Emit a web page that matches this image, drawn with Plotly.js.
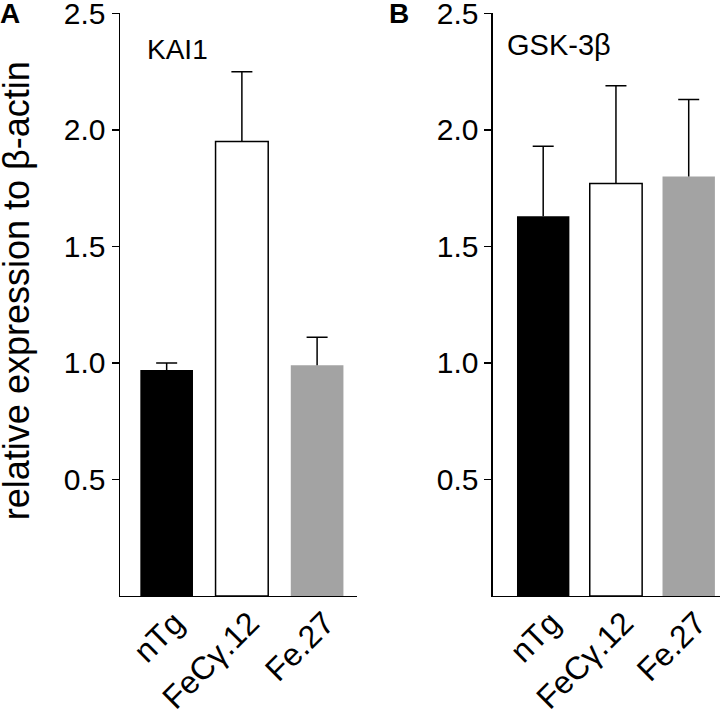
<!DOCTYPE html>
<html>
<head>
<meta charset="utf-8">
<script src="https://cdn.plot.ly/plotly-3.0.1.min.js"></script>
<style>
  html, body { margin: 0; padding: 0; background: #fff; }
  #chart { width: 720px; height: 714px; }
</style>
</head>
<body>
<div id="chart"></div>
<script>
// Data
const categories = ['nTg', 'FeCγ.12', 'Fe.27'];
const kai1Means = [0.97, 1.95, 0.99];
const kai1Err = [0.03, 0.30, 0.12];
const gskMeans = [1.63, 1.77, 1.80];
const gskErr = [0.30, 0.42, 0.33];
const yTickVals = [0.5, 1.0, 1.5, 2.0, 2.5];
const yTickText = ['0.5', '1.0', '1.5', '2.0', '2.5'];

// Bar styles: black, open, grey
const barFill = ['#000000', '#ffffff', '#a3a3a3'];
const barEdge = ['#000000', '#000000', '#a3a3a3'];
const barEdgeW = [0, 1.5, 0];

const FONT = '"Liberation Sans", Arial, Helvetica, sans-serif';

function barTrace(means, xa, ya, w) {
    return {
        type: 'bar',
        x: categories,
        y: means,
        xaxis: xa,
        yaxis: ya,
        width: w,
        marker: {
            color: barFill,
            line: { color: barEdge, width: barEdgeW }
        },
        hoverinfo: 'x+y',
        showlegend: false
    };
}

// Upper-only error bars: a stem from the bar top plus a cap at the end
// (plotly's error_y would also put a cap on the bar top)
function stemTrace(means, errs, xa, ya) {
    const x = [], y = [];
    categories.forEach((c, i) => {
        x.push(c, c, null);
        y.push(means[i], means[i] + errs[i], null);
    });
    return {
        type: 'scatter', mode: 'lines', x: x, y: y, xaxis: xa, yaxis: ya,
        line: { color: '#000', width: 1.5 }, hoverinfo: 'skip', showlegend: false
    };
}

function capTrace(means, errs, xa, ya) {
    return {
        type: 'scatter', mode: 'markers', x: categories,
        y: means.map((m, i) => m + errs[i]), xaxis: xa, yaxis: ya,
        marker: { symbol: 'line-ew', size: 15, line: { color: '#000', width: 1.5 } },
        hoverinfo: 'skip', showlegend: false
    };
}

const traces = [
    barTrace(kai1Means, 'x', 'y', 0.70),
    stemTrace(kai1Means, kai1Err, 'x', 'y'),
    capTrace(kai1Means, kai1Err, 'x', 'y'),
    barTrace(gskMeans, 'x2', 'y2', 0.72),
    stemTrace(gskMeans, gskErr, 'x2', 'y2'),
    capTrace(gskMeans, gskErr, 'x2', 'y2')
];

const yDomain = [0.1653, 0.9814];

function yAxis(anchor) {
    return {
        anchor: anchor,
        domain: yDomain,
        range: [0, 2.5005],
        tickmode: 'array',
        tickvals: yTickVals,
        ticktext: yTickText,
        ticks: 'outside',
        ticklen: 7,
        tickwidth: 1.5,
        tickcolor: '#000',
        ticklabeloverflow: 'allow',
        showline: true,
        linecolor: '#000',
        linewidth: 1.5,
        showgrid: false,
        zeroline: false,
        tickfont: { size: 30, color: '#000', family: FONT }
    };
}

function xAxis(anchor, domain, range) {
    return {
        anchor: anchor,
        domain: domain,
        range: range,
        type: 'category',
        showline: true,
        linecolor: '#000',
        linewidth: 1.5,
        ticks: '',
        tickangle: -45,
        ticklabelstandoff: -6,
        ticklabelshift: 8,
        ticklabeloverflow: 'allow',
        showgrid: false,
        zeroline: false,
        tickfont: { size: 32, color: '#000', family: FONT }
    };
}

const layout = {
    width: 720,
    height: 714,
    margin: { l: 0, r: 0, t: 0, b: 0 },
    paper_bgcolor: '#fff',
    plot_bgcolor: 'rgba(0,0,0,0)',
    font: { family: FONT, color: '#000' },
    xaxis: xAxis('y', [0.1667, 0.4958], [-0.62, 2.53]),
    yaxis: yAxis('x'),
    xaxis2: xAxis('y2', [0.6847, 1.0], [-0.69, 2.43]),
    yaxis2: yAxis('x2'),
    annotations: [
        { text: '<b>A</b>', xref: 'paper', yref: 'paper', x: -0.003, y: 0.981,
          xanchor: 'left', yanchor: 'middle', showarrow: false, font: { size: 28 } },
        { text: '<b>B</b>', xref: 'paper', yref: 'paper', x: 0.538, y: 0.981,
          xanchor: 'left', yanchor: 'middle', showarrow: false, font: { size: 28 } },
        { text: 'KAI1', xref: 'paper', yref: 'paper', x: 0.2014, y: 0.930,
          xanchor: 'left', yanchor: 'middle', showarrow: false, font: { size: 28 } },
        { text: 'GSK-3β', xref: 'paper', yref: 'paper', x: 0.702, y: 0.937,
          xanchor: 'left', yanchor: 'middle', showarrow: false, font: { size: 29 } },
        { text: 'relative expression to β-actin', xref: 'paper', yref: 'paper',
          x: 0.023, y: 0.593, xanchor: 'center', yanchor: 'middle', textangle: -90,
          showarrow: false, font: { size: 36 } }
    ]
};

Plotly.newPlot('chart', traces, layout, { displayModeBar: false, staticPlot: true });
</script>
</body>
</html>
